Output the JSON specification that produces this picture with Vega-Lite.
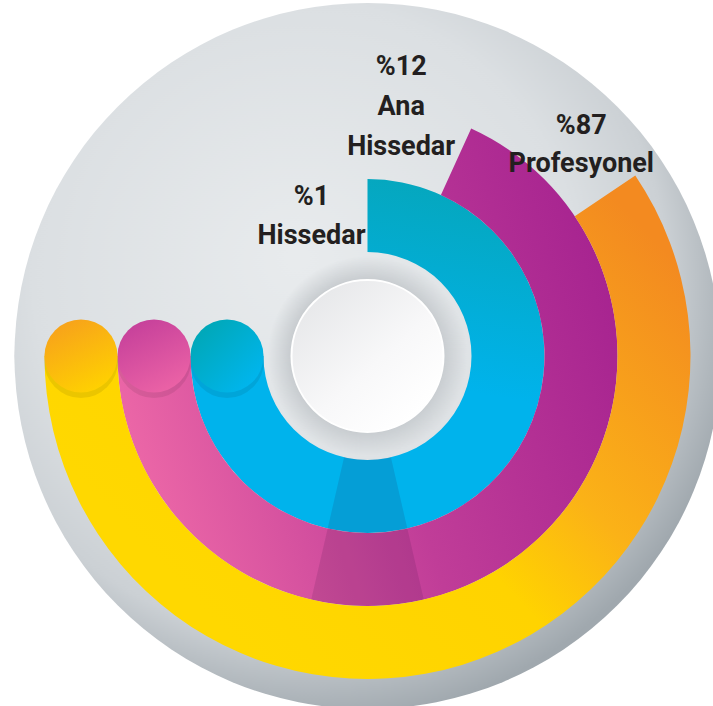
{
  "$schema": "https://vega.github.io/schema/vega-lite/v6.json",
  "autosize": "none",
  "width": 691,
  "height": 700,
  "padding": {"left": 22, "top": 6, "right": 0, "bottom": 0},
  "background": "#ffffff",
  "config": {"view": {"stroke": null}},
  "datasets": {
    "groups": [
      {"group": "Hissedar", "label": "%1\nHissedar", "pct": 1, "ring": 1, "start": 0, "end": 270},
      {"group": "Ana Hissedar", "label": "%12\nAna\nHissedar", "pct": 12, "ring": 2, "start": 24.5, "end": 270},
      {"group": "Profesyonel", "label": "%87\nProfesyonel", "pct": 87, "ring": 3, "start": 56, "end": 270}
    ],
    "shade": [
      {"ring": 1, "start": 167, "end": 193},
      {"ring": 2, "start": 167, "end": 193}
    ],
    "base": [{"part": "disc"}]
  },
  "data": {"name": "groups"},
  "layer": [
    {
      "data": {"name": "base"},
      "mark": {"type": "arc", "radius": 353, "theta": 0, "theta2": 6.2832,
        "fill": {"gradient": "radial", "x1": 0.4, "y1": 0.36, "r1": 0, "x2": 0.42, "y2": 0.4, "r2": 0.62,
          "stops": [{"offset": 0, "color": "#e8ebed"}, {"offset": 0.62, "color": "#dbdfe2"}, {"offset": 0.82, "color": "#cbd0d4"}, {"offset": 1, "color": "#a0a8ae"}]}},
      "encoding": {}
    },
    {
      "data": {"name": "base"},
      "mark": {"type": "arc", "radius": 100, "theta": 0, "theta2": 6.2832,
        "fill": {"gradient": "radial", "x1": 0.46, "y1": 0.46, "r1": 0, "x2": 0.5, "y2": 0.5, "r2": 0.5,
          "stops": [{"offset": 0.7, "color": "rgba(140,146,152,0.38)"}, {"offset": 1, "color": "rgba(140,146,152,0)"}]}},
      "encoding": {}
    },
    {
      "data": {"name": "base"},
      "mark": {"type": "arc", "radius": 76, "theta": 0, "theta2": 6.2832, "stroke": "#ffffff", "strokeWidth": 2,
        "fill": {"gradient": "linear", "x1": 0.1, "y1": 0.1, "x2": 0.8, "y2": 0.9,
          "stops": [{"offset": 0, "color": "#e6e7e9"}, {"offset": 0.6, "color": "#f8f8f9"}, {"offset": 1, "color": "#ffffff"}]}},
      "encoding": {}
    },
    {
      "transform": [{"filter": "datum.ring == 1"}],
      "mark": {"type": "arc", "radius2Offset": -73,
        "fill": {"gradient": "linear", "x1": 0.6, "y1": 0, "x2": 0.5, "y2": 0.55,
          "stops": [{"offset": 0, "color": "#05a7be"}, {"offset": 1, "color": "#00b3ec"}]}},
      "encoding": {
        "theta": {"field": "start", "type": "quantitative", "scale": {"domain": [0, 360], "range": [0, 6.2832]}},
        "theta2": {"field": "end"},
        "radius": {"field": "ring", "type": "quantitative", "scale": {"type": "linear", "zero": false, "domain": [0, 3], "range": [104, 323]}},
        "radius2": {"field": "ring"}
      }
    },
    {
      "transform": [{"filter": "datum.ring == 2"}],
      "mark": {"type": "arc", "radius2Offset": -73,
        "fill": {"gradient": "linear", "x1": 1, "y1": 0.3, "x2": 0, "y2": 0.6,
          "stops": [{"offset": 0, "color": "#a62390"}, {"offset": 0.5, "color": "#c03d98"}, {"offset": 1, "color": "#ec67a7"}]}},
      "encoding": {
        "theta": {"field": "start", "type": "quantitative", "scale": {"domain": [0, 360], "range": [0, 6.2832]}},
        "theta2": {"field": "end"},
        "radius": {"field": "ring", "type": "quantitative", "scale": {"type": "linear", "zero": false, "domain": [0, 3], "range": [104, 323]}},
        "radius2": {"field": "ring"}
      }
    },
    {
      "transform": [{"filter": "datum.ring == 3"}],
      "mark": {"type": "arc", "radius2Offset": -73,
        "fill": {"gradient": "linear", "x1": 1, "y1": 0.2, "x2": 0.2, "y2": 0.8,
          "stops": [{"offset": 0, "color": "#f38a20"}, {"offset": 0.4, "color": "#fbb217"}, {"offset": 0.6, "color": "#ffd300"}, {"offset": 1, "color": "#ffd800"}]}},
      "encoding": {
        "theta": {"field": "start", "type": "quantitative", "scale": {"domain": [0, 360], "range": [0, 6.2832]}},
        "theta2": {"field": "end"},
        "radius": {"field": "ring", "type": "quantitative", "scale": {"type": "linear", "zero": false, "domain": [0, 3], "range": [104, 323]}},
        "radius2": {"field": "ring"}
      }
    },
    {
      "data": {"name": "shade"},
      "mark": {"type": "arc", "radius2Offset": -73, "fill": "#2a0a3a", "fillOpacity": 0.12},
      "encoding": {
        "theta": {"field": "start", "type": "quantitative", "scale": {"domain": [0, 360], "range": [0, 6.2832]}},
        "theta2": {"field": "end"},
        "radius": {"field": "ring", "type": "quantitative", "scale": {"type": "linear", "zero": false, "domain": [0, 3], "range": [104, 323]}},
        "radius2": {"field": "ring"}
      }
    },
    {
      "mark": {"type": "point", "shape": "circle", "filled": true, "size": 5500, "fill": "#000000", "fillOpacity": 0.08, "strokeWidth": 0},
      "encoding": {
        "x": {"field": "ring", "type": "quantitative", "scale": {"domain": [0, 3], "range": [278, 59]}, "axis": null},
        "y": {"datum": -0.014, "type": "quantitative", "scale": {"domain": [-1, 1]}, "axis": null}
      }
    },
    {
      "transform": [{"filter": "datum.ring == 1"}],
      "mark": {"type": "point", "shape": "circle", "filled": true, "size": 5329, "strokeWidth": 0, "opacity": 1,
        "fill": {"gradient": "linear", "x1": 0.1, "y1": 0.1, "x2": 0.9, "y2": 0.9,
          "stops": [{"offset": 0, "color": "#00a7b5"}, {"offset": 1, "color": "#00b6f0"}]}},
      "encoding": {
        "x": {"field": "ring", "type": "quantitative", "scale": {"domain": [0, 3], "range": [278, 59]}, "axis": null},
        "y": {"datum": 0, "type": "quantitative", "scale": {"domain": [-1, 1]}, "axis": null}
      }
    },
    {
      "transform": [{"filter": "datum.ring == 2"}],
      "mark": {"type": "point", "shape": "circle", "filled": true, "size": 5329, "strokeWidth": 0, "opacity": 1,
        "fill": {"gradient": "linear", "x1": 0.2, "y1": 0, "x2": 0.7, "y2": 1,
          "stops": [{"offset": 0, "color": "#c43f9a"}, {"offset": 1, "color": "#ec63a6"}]}},
      "encoding": {
        "x": {"field": "ring", "type": "quantitative", "scale": {"domain": [0, 3], "range": [278, 59]}, "axis": null},
        "y": {"datum": 0, "type": "quantitative", "scale": {"domain": [-1, 1]}, "axis": null}
      }
    },
    {
      "transform": [{"filter": "datum.ring == 3"}],
      "mark": {"type": "point", "shape": "circle", "filled": true, "size": 5329, "strokeWidth": 0, "opacity": 1,
        "fill": {"gradient": "linear", "x1": 0.2, "y1": 0, "x2": 0.7, "y2": 1,
          "stops": [{"offset": 0, "color": "#f7a01c"}, {"offset": 1, "color": "#ffd200"}]}},
      "encoding": {
        "x": {"field": "ring", "type": "quantitative", "scale": {"domain": [0, 3], "range": [278, 59]}, "axis": null},
        "y": {"datum": 0, "type": "quantitative", "scale": {"domain": [-1, 1]}, "axis": null}
      }
    },
    {
      "transform": [{"filter": "datum.ring == 1"}],
      "mark": {"type": "text", "lineBreak": "\n", "font": "Roboto", "fontWeight": "bold", "fontSize": 27, "lineHeight": 39, "color": "#231f20", "align": "center", "baseline": "middle", "dx": -56, "dy": 18},
      "encoding": {
        "theta": {"field": "start", "type": "quantitative", "scale": {"domain": [0, 360], "range": [0, 6.2832]}},
        "radius": {"field": "ring", "type": "quantitative", "scale": {"type": "linear", "zero": false, "domain": [0, 3], "range": [104, 323]}},
        "text": {"field": "label"}
      }
    },
    {
      "transform": [{"filter": "datum.ring == 2"}],
      "mark": {"type": "text", "lineBreak": "\n", "font": "Roboto", "fontWeight": "bold", "fontSize": 27, "lineHeight": 40, "color": "#231f20", "align": "center", "baseline": "middle", "dx": -70, "dy": -62},
      "encoding": {
        "theta": {"field": "start", "type": "quantitative", "scale": {"domain": [0, 360], "range": [0, 6.2832]}},
        "radius": {"field": "ring", "type": "quantitative", "scale": {"type": "linear", "zero": false, "domain": [0, 3], "range": [104, 323]}},
        "text": {"field": "label"}
      }
    },
    {
      "transform": [{"filter": "datum.ring == 3"}],
      "mark": {"type": "text", "lineBreak": "\n", "font": "Roboto", "fontWeight": "bold", "fontSize": 27, "lineHeight": 38, "color": "#231f20", "align": "center", "baseline": "middle", "dx": -54, "dy": -49},
      "encoding": {
        "theta": {"field": "start", "type": "quantitative", "scale": {"domain": [0, 360], "range": [0, 6.2832]}},
        "radius": {"field": "ring", "type": "quantitative", "scale": {"type": "linear", "zero": false, "domain": [0, 3], "range": [104, 323]}},
        "text": {"field": "label"}
      }
    }
  ]
}
